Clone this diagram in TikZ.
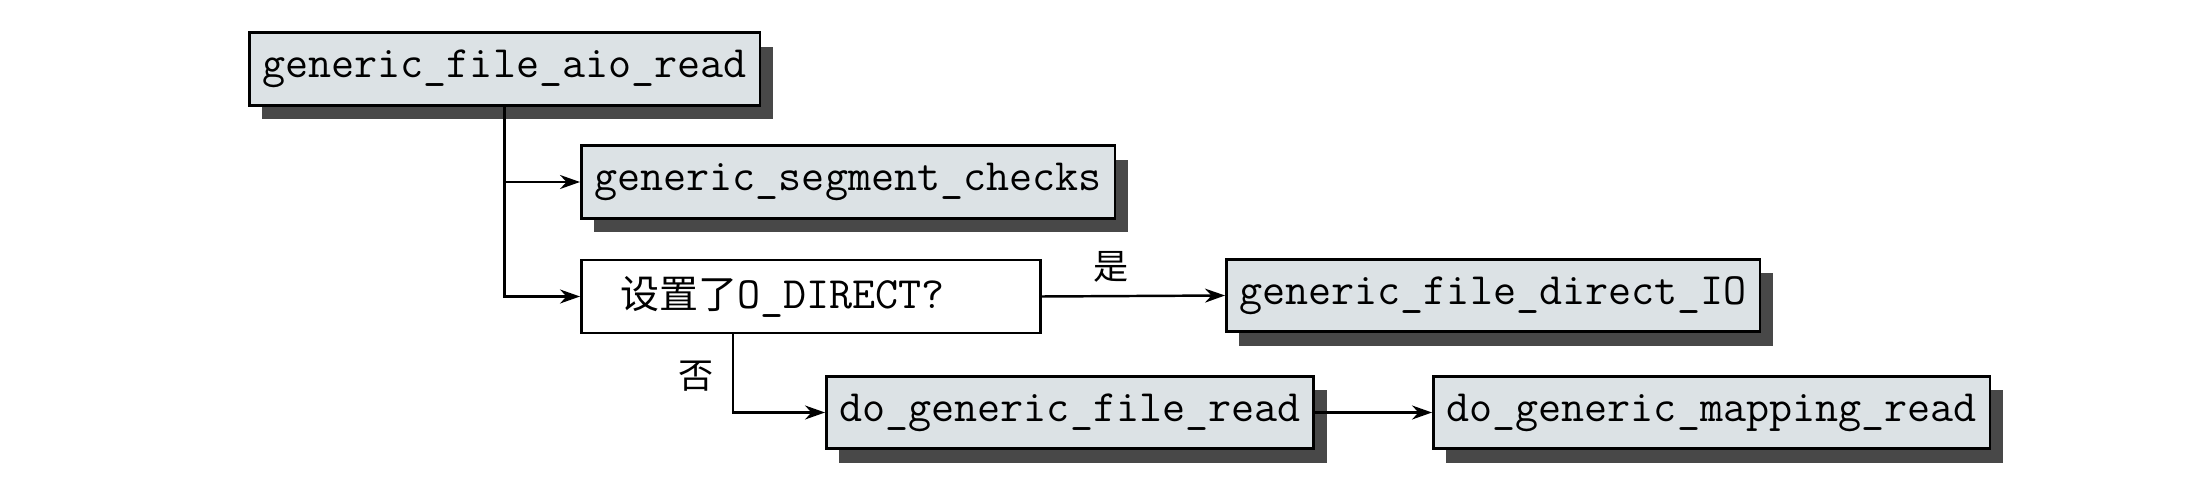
\documentclass[tikz,border=0pt]{standalone}
\usepackage{fontspec}
\newfontfamily\cjk{Noto Sans CJK SC}
\usetikzlibrary{shadows,arrows.meta}
\definecolor{boxfill}{RGB}{220,226,229}
\definecolor{shadowc}{RGB}{72,72,72}
\begin{document}
\begin{tikzpicture}[x=0.02cm,y=-0.02cm,
  fnbox/.style={draw=black, line width=1.5pt, fill=boxfill, anchor=west,
    minimum height=1.45cm, inner xsep=0.26cm,
    font=\fontsize{25.5pt}{28pt}\selectfont\ttfamily,
    drop shadow={shadow xshift=0.26cm, shadow yshift=-0.28cm, fill=shadowc, opacity=1}},
  decbox/.style={draw=black, line width=1.5pt, fill=white, anchor=west,
    minimum height=1.46cm, text width=7.62cm, inner xsep=0.78cm, align=left,
    font=\fontsize{25.5pt}{28pt}\selectfont\ttfamily},
  lbl/.style={font=\fontsize{20pt}{24pt}\selectfont\cjk},
  conn/.style={line width=1.4pt, -{Stealth[length=0.4cm, width=0.28cm]}}
]
\useasboundingbox (0,0) rectangle (2201,496);
\node[fnbox] (aio) at (248,69) {generic\_file\_aio\_read};
\node[fnbox] (seg) at (580,182) {generic\_segment\_checks};
\node[decbox] (dec) at (580,296.5) {{\cjk\fontsize{22.2pt}{26pt}\selectfont 设置了}O\_DIRECT?};
\node[fnbox] (dio) at (1225,295.5) {generic\_file\_direct\_IO};
\node[fnbox] (dgfr) at (825,412.5) {do\_generic\_file\_read};
\node[fnbox] (dgmr) at (1432,412.5) {do\_generic\_mapping\_read};
\draw[conn] (aio.south) |- (seg.west);
\draw[conn] (aio.south) |- (dec.west);
\draw[conn] (dec.east) -- node[lbl, above=4pt, pos=0.38] (yes) {是} (dio.west);
\draw[conn] (dec.south -| 733,0) |- node[lbl, left=7pt, pos=0.27] (no) {否} (dgfr.west);
\draw[conn] (dgfr.east) -- (dgmr.west);
\end{tikzpicture}
\end{document}
